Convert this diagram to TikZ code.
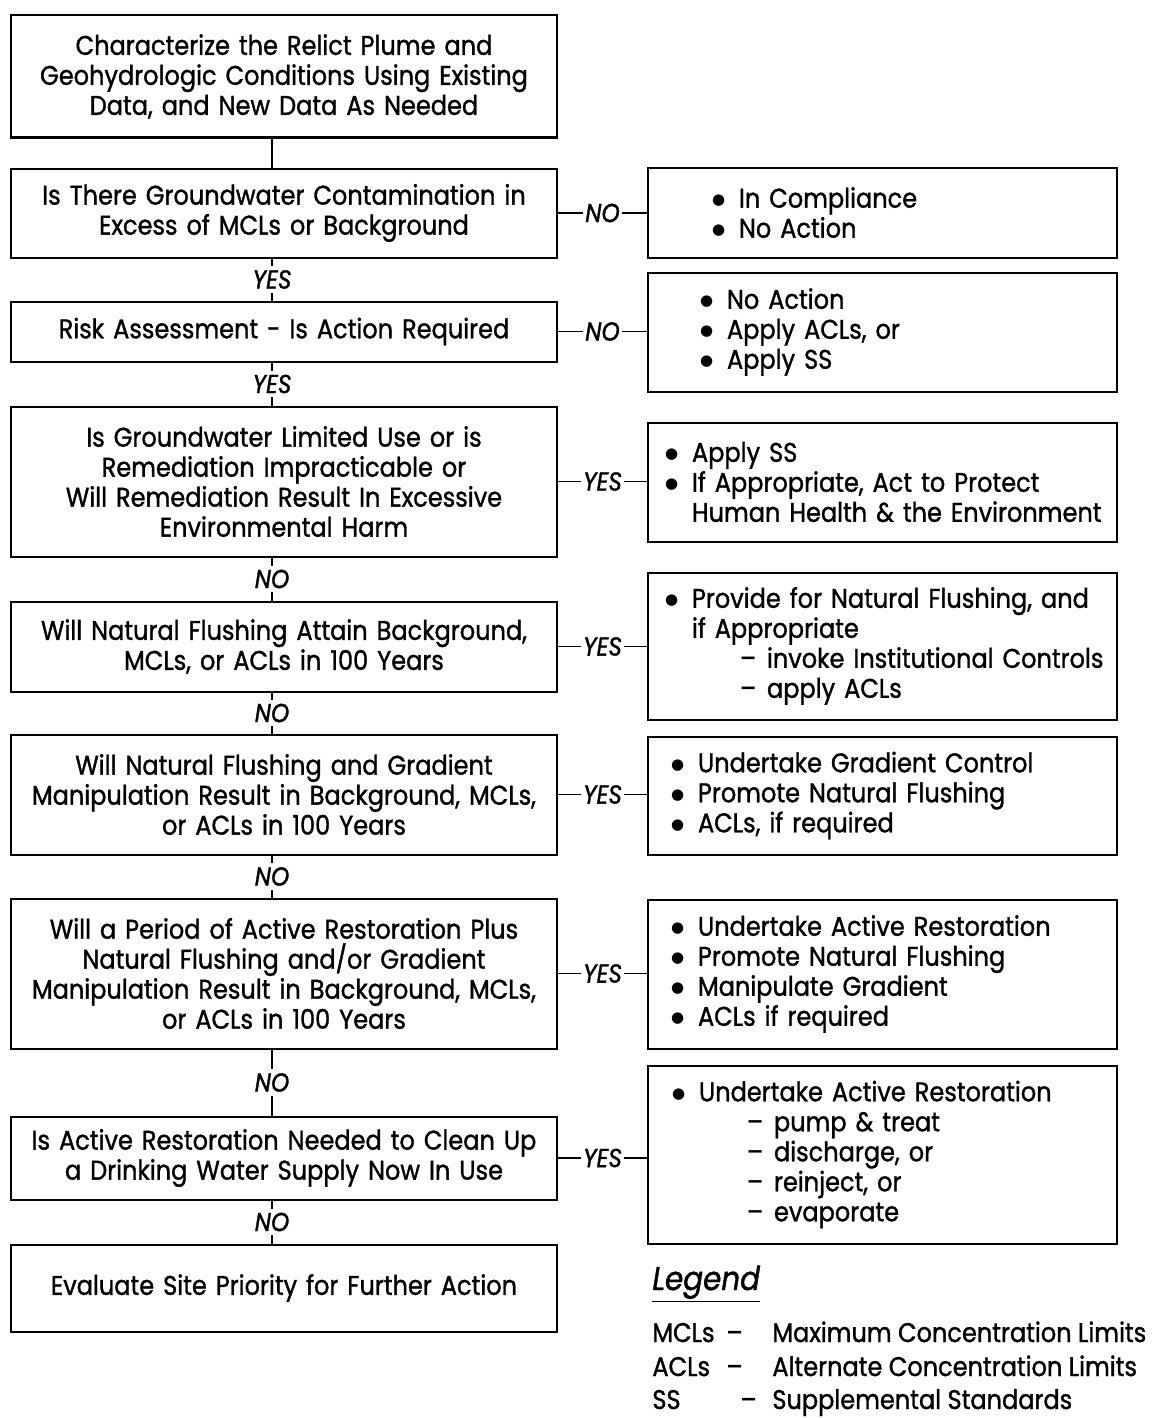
\documentclass[tikz,border=0pt]{standalone}
\usepackage{fontspec}
\setmainfont{Poppins}[FakeStretch=0.89, FakeBold=1.2]
\newfontfamily\symfont{DejaVu Sans}
\usetikzlibrary{positioning}

\newcommand{\boxfont}{\fontsize{13.5}{15}\selectfont}
\newcommand{\ansfont}{\itshape\fontsize{13}{14}\selectfont}
\newcommand{\dotmark}{\raisebox{0.12em}{\symfont\fontsize{7.5}{8}\selectfont ●}}
\newcommand{\bl}[1]{\makebox[13.5pt][l]{\dotmark}\mbox{#1}}
\newcommand{\cl}[1]{\hspace*{13.5pt}\mbox{#1}}
\newcommand{\sbl}[1]{\hspace*{37.5pt}\makebox[13.5pt][l]{--}\mbox{#1}}

\begin{document}
\begin{tikzpicture}[x=0.5pt, y=-0.5pt,
    qbox/.style={draw, line width=1pt, minimum width=273pt, inner sep=0pt, text width=270pt, align=center, font=\boxfont},
    abox/.style={draw, line width=1pt, minimum width=234.5pt, inner sep=0pt, align=left, font=\boxfont},
    link/.style={line width=0.8pt},
    answer/.style={fill=white, inner xsep=1pt, inner ysep=2pt, font=\ansfont},
    legtext/.style={anchor=base west, inner sep=0pt, font=\boxfont}]

    \useasboundingbox (0,0) rectangle (1154,1418);

    % --- Decision chain (left column) ---
    \coordinate (spine) at (272,0);
    \node[qbox, minimum height=61pt] (char) at (284,76.5) {Characterize the Relict Plume and\\Geohydrologic Conditions Using Existing\\Data, and New Data As Needed};
    \node[qbox, minimum height=44.5pt] (contam) at (284,213) {Is There Groundwater Contamination in\\Excess of MCLs or Background};
    \node[qbox, minimum height=30pt] (risk) at (284,331.5) {Risk Assessment - Is Action Required};
    \node[qbox, minimum height=75pt] (limited) at (284,481.5) {Is Groundwater Limited Use or is\\Remediation Impracticable or\\Will Remediation Result In Excessive\\Environmental Harm};
    \node[qbox, minimum height=45pt] (flush) at (284,646.5) {Will Natural Flushing Attain Background,\\MCLs, or ACLs in 100 Years};
    \node[qbox, minimum height=60pt] (gradient) at (284,794.5) {Will Natural Flushing and Gradient\\Manipulation Result in Background, MCLs,\\or ACLs in 100 Years};
    \node[qbox, minimum height=75pt] (active) at (284,973.5) {Will a Period of Active Restoration Plus\\Natural Flushing and/or Gradient\\Manipulation Result in Background, MCLs,\\or ACLs in 100 Years};
    \node[qbox, minimum height=41.5pt] (drink) at (284,1158) {Is Active Restoration Needed to Clean Up\\a Drinking Water Supply Now In Use};
    \node[qbox, minimum height=43.5pt] (priority) at (284,1288) {Evaluate Site Priority for Further Action};

    % --- Outcomes (right column) ---
    \node[abox, minimum height=45pt, text width=170.5pt] (comply) at (882.5,212.5) {\bl{In Compliance}\\\bl{No Action}};
    \node[abox, minimum height=59.5pt, text width=182.5pt] (noact) at (882.5,332) {\bl{No Action}\\\bl{Apply ACLs, or}\\\bl{Apply SS}};
    \node[abox, minimum height=59.5pt, text width=217.5pt] (applyss) at (882.5,482) {\bl{Apply SS}\\\bl{If Appropriate, Act to Protect}\\\cl{Human Health \& the Environment}};
    \node[abox, minimum height=73.5pt, text width=217.5pt] (natflush) at (882.5,646) {\bl{Provide for Natural Flushing, and}\\\cl{if Appropriate}\\\sbl{invoke Institutional Controls}\\\sbl{apply ACLs}};
    \node[abox, minimum height=59pt, text width=211.5pt] (gradctl) at (882.5,795.5) {\bl{Undertake Gradient Control}\\\bl{Promote Natural Flushing}\\\bl{ACLs, if required}};
    \node[abox, minimum height=74.5pt, text width=211.5pt] (restore) at (882.5,974) {\bl{Undertake Active Restoration}\\\bl{Promote Natural Flushing}\\\bl{Manipulate Gradient}\\\bl{ACLs if required}};
    \node[abox, minimum height=89pt, text width=210.5pt] (pump) at (882.5,1154.5) {\bl{Undertake Active Restoration}\\\sbl{pump \& treat}\\\sbl{discharge, or}\\\sbl{reinject, or}\\\sbl{evaporate}};

    % --- Vertical links ---
    \draw[link] (char.south -| spine) -- (contam.north -| spine);
    \draw[link] (contam.south -| spine) -- node[answer] {YES} (risk.north -| spine);
    \draw[link] (risk.south -| spine) -- node[answer] {YES} (limited.north -| spine);
    \draw[link] (limited.south -| spine) -- node[answer] {NO} (flush.north -| spine);
    \draw[link] (flush.south -| spine) -- node[answer] {NO} (gradient.north -| spine);
    \draw[link] (gradient.south -| spine) -- node[answer] {NO} (active.north -| spine);
    \draw[link] (active.south -| spine) -- node[answer] {NO} (drink.north -| spine);
    \draw[link] (drink.south -| spine) -- node[answer] {NO} (priority.north -| spine);

    % --- Side links ---
    \draw[link] (contam.east) -- node[answer] {NO} (contam.east -| comply.west);
    \draw[link] (risk.east) -- node[answer] {NO} (risk.east -| noact.west);
    \draw[link] (limited.east) -- node[answer] {YES} (limited.east -| applyss.west);
    \draw[link] (flush.east) -- node[answer] {YES} (flush.east -| natflush.west);
    \draw[link] (gradient.east) -- node[answer] {YES} (gradient.east -| gradctl.west);
    \draw[link] (active.east) -- node[answer] {YES} (active.east -| restore.west);
    \draw[link] (drink.east) -- node[answer] {YES} (drink.east -| pump.west);

    % --- Legend ---
    \node[anchor=base west, inner sep=0pt, font=\itshape\fontsize{16.5}{18}\selectfont] (legend) at (652,1290) {\underline{Legend}};
    \node[legtext] (mcl) at (652,1342) {MCLs};
    \node[legtext] (mcldash) at (726,1342) {--};
    \node[legtext] (mcldef) at (772,1342) {Maximum Concentration Limits};
    \node[legtext] (acl) at (652,1376) {ACLs};
    \node[legtext] (acldash) at (726,1376) {--};
    \node[legtext] (acldef) at (772,1376) {Alternate Concentration Limits};
    \node[legtext] (ss) at (652,1409) {SS};
    \node[legtext] (ssdash) at (740,1409) {--};
    \node[legtext] (ssdef) at (772,1409) {Supplemental Standards};

\end{tikzpicture}
\end{document}
